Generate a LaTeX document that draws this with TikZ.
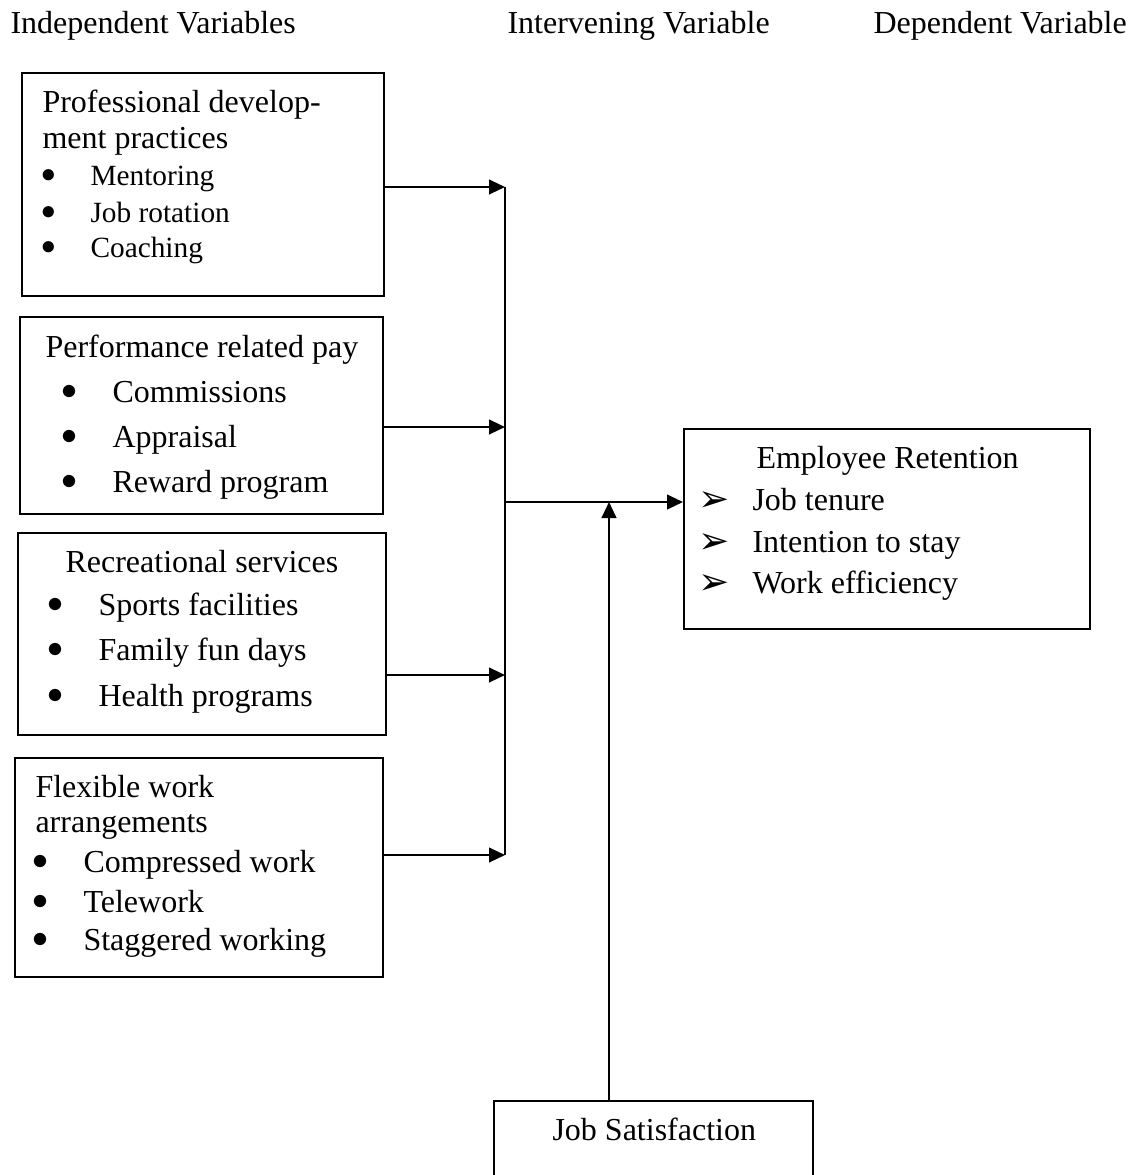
\documentclass[tikz,border=0pt]{standalone}
\usepackage{fontspec}
\setmainfont{Liberation Serif}
\newfontfamily\symfont{DejaVu Sans}
\usetikzlibrary{arrows.meta}

\newcommand{\itm}[1]{\llap{\raisebox{1pt}{$\bullet$}\hspace{13pt}}#1}
\newcommand{\chk}[1]{\llap{\raisebox{-0.5pt}{\symfont\fontsize{14}{14}\selectfont ➢}\hspace{8.5pt}}#1}

\tikzset{
  frame/.style 2 args={draw, line width=0.75pt, anchor=north west, inner sep=0pt,
    minimum width=#1*0.375pt, minimum height=#2*0.375pt},
  txt/.style={anchor=base west, inner sep=0pt},
  link/.style={line width=0.8pt, -{Triangle[length=6pt,width=5.5pt]}},
  wire/.style={line width=0.8pt}
}

\begin{document}
\begin{tikzpicture}[x=0.375pt, y=-0.375pt, font=\fontsize{12}{14}\selectfont]
  \useasboundingbox (0,0) rectangle (1134,1175);

  % headings
  \node[txt] (indep) at (10,33) {Independent Variables};
  \node[txt] (inter) at (507,33) {Intervening Variable};
  \node[txt] (dep) at (873,33) {Dependent Variable};

  % boxes
  \node[frame={362}{223}] (pdp) at (21,72) {};
  \node[frame={363}{197}] (prp) at (19,316) {};
  \node[frame={368}{202}] (rec) at (17,532) {};
  \node[frame={368}{219}] (fwa) at (14,757) {};
  \node[frame={406}{200}] (ret) at (683,428) {};
  \node[frame={319}{100}] (sat) at (493,1100) {};

  % professional development
  \node[txt] (pdp-1) at (42,112) {Professional develop-};
  \node[txt] (pdp-2) at (42,148) {ment practices};
  \node[txt, font=\fontsize{11}{13}\selectfont] (pdp-3) at (90,185) {\itm{Mentoring}};
  \node[txt, font=\fontsize{11}{13}\selectfont] (pdp-4) at (90,222) {\itm{Job rotation}};
  \node[txt, font=\fontsize{11}{13}\selectfont] (pdp-5) at (90,257) {\itm{Coaching}};

  % performance related pay
  \node[txt] (prp-1) at (45,357) {Performance related pay};
  \node[txt] (prp-2) at (112,402) {\itm{Commissions}};
  \node[txt] (prp-3) at (112,447) {\itm{Appraisal}};
  \node[txt] (prp-4) at (112,492) {\itm{Reward program}};

  % recreational services
  \node[txt] (rec-1) at (65,572) {Recreational services};
  \node[txt] (rec-2) at (98,615) {\itm{Sports facilities}};
  \node[txt] (rec-3) at (98,660) {\itm{Family fun days}};
  \node[txt] (rec-4) at (98,706) {\itm{Health programs}};

  % flexible work
  \node[txt] (fwa-1) at (35,797) {Flexible work};
  \node[txt] (fwa-2) at (35,832) {arrangements};
  \node[txt] (fwa-3) at (83,872) {\itm{Compressed work}};
  \node[txt] (fwa-4) at (83,912) {\itm{Telework}};
  \node[txt] (fwa-5) at (83,950) {\itm{Staggered working}};

  % employee retention
  \node[txt] (ret-1) at (756,468) {Employee Retention};
  \node[txt] (ret-2) at (752,510) {\chk{Job tenure}};
  \node[txt] (ret-3) at (752,552) {\chk{Intention to stay}};
  \node[txt] (ret-4) at (752,593) {\chk{Work efficiency}};

  % job satisfaction
  \node[txt] (sat-1) at (552,1140) {Job Satisfaction};

  % connectors
  \coordinate (s1) at (505,187);
  \coordinate (s2) at (505,427);
  \coordinate (s3) at (505,675);
  \coordinate (s4) at (505,855);
  \coordinate (mid) at (505,502);
  \coordinate (sin) at (609,502);

  \draw[link] (pdp.east |- s1) -- (s1);
  \draw[link] (prp.east |- s2) -- (s2);
  \draw[link] (rec.east |- s3) -- (s3);
  \draw[link] (fwa.east |- s4) -- (s4);
  \draw[wire] (s1) -- (s4);
  \draw[link] (mid) -- (mid -| ret.west);
  \draw[link] (sat.north -| sin) -- (sin);
\end{tikzpicture}
\end{document}
